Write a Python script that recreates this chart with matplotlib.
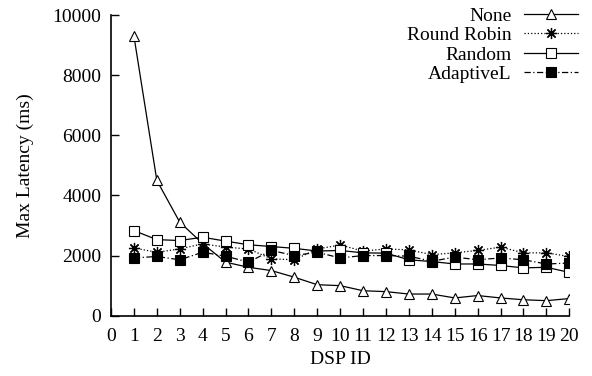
import matplotlib
matplotlib.use("Agg")
import matplotlib.pyplot as plt

dsp_ids = list(range(1, 21))
none_vals = [9300, 4500, 3110, 2400, 1780, 1610, 1500, 1280, 1030, 1000,
             830, 800, 720, 720, 590, 670, 590, 530, 500, 570]
rr_vals = [2250, 2110, 2220, 2390, 2280, 2220, 1890, 1860, 2220, 2350,
           2150, 2220, 2190, 2030, 2090, 2170, 2280, 2090, 2090, 1970]
random_vals = [2830, 2530, 2500, 2610, 2480, 2360, 2300, 2240, 2150, 2170,
               2090, 2080, 1860, 1800, 1720, 1720, 1670, 1590, 1610, 1440]
adaptive_vals = [1920, 1970, 1860, 2110, 1980, 1780, 2170, 2000, 2110, 1920,
                 2000, 2000, 1980, 1810, 1950, 1860, 1920, 1860, 1720, 1750]
x_ticks = list(range(0, 21))
y_ticks = [0, 2000, 4000, 6000, 8000, 10000]

plt.rcParams['font.family'] = ['Liberation Serif', 'DejaVu Serif']
fs = 14

fig = plt.figure(figsize=(5.92, 3.76), dpi=100)
ax = fig.add_axes([0.1875, 0.1604, 0.9617 - 0.1875, 0.960 - 0.1604])

ax.plot(dsp_ids, none_vals, color='black', lw=0.9, ls='-', marker='^',
        markersize=6.5, markerfacecolor='white', markeredgewidth=0.8, label='None')
ax.plot(dsp_ids, rr_vals, color='black', lw=0.9, ls=':', marker=(8, 2, 0),
        markersize=8, markeredgewidth=0.9, label='Round Robin')
ax.plot(dsp_ids, random_vals, color='black', lw=0.9, ls='-', marker='s',
        markersize=7, markerfacecolor='white', markeredgewidth=0.8, label='Random')
ax.plot(dsp_ids, adaptive_vals, color='black', lw=0.9, ls=(0, (5, 2, 1, 2)), marker='s',
        markersize=6.5, markerfacecolor='black', markeredgewidth=0.8, label='AdaptiveL')

ax.set_xlim(0, 20)
ax.set_ylim(0, 10000)
ax.set_xticks(x_ticks)
ax.set_yticks(y_ticks)
ax.tick_params(direction='in', length=6, width=1, labelsize=fs)
ax.tick_params(axis='y', pad=7)
ax.tick_params(axis='x', pad=9)
ax.spines['top'].set_visible(False)
ax.spines['right'].set_visible(False)
for s in ('left', 'bottom'):
    ax.spines[s].set_linewidth(1.2)

ax.set_xlabel('DSP ID', fontsize=fs, labelpad=4)
ax.set_ylabel('Max Latency (ms)', fontsize=fs, labelpad=13)

leg = ax.legend(loc='upper right', bbox_to_anchor=(578 / 592, 1 - 7 / 376),
                bbox_transform=fig.transFigure, frameon=False, markerfirst=False,
                fontsize=fs, handlelength=2.8, handletextpad=0.6,
                labelspacing=0.1, borderpad=0, borderaxespad=0)
for t in leg.get_texts():
    t.set_ha('right')
leg._legend_box.align = 'right'

fig.savefig('out.png', dpi=100)
